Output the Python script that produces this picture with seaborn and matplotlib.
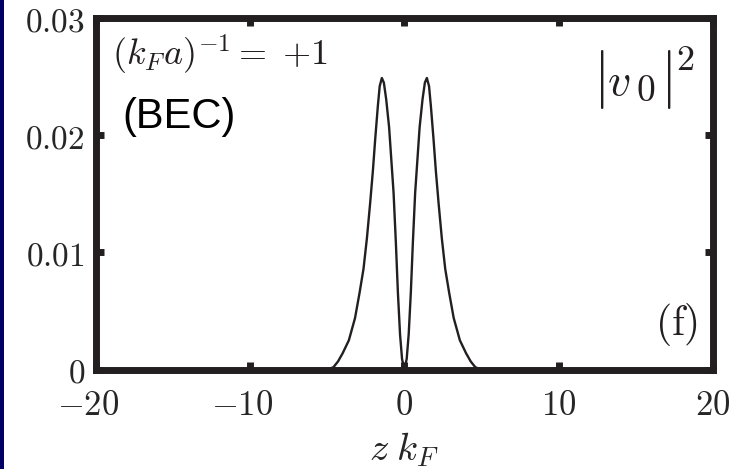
import matplotlib
matplotlib.use("Agg")
import matplotlib.pyplot as plt
import matplotlib.transforms as mtransforms
from matplotlib.patches import Rectangle
import seaborn as sns
import pandas as pd

# |v0|^2 profile along z*kF (BEC side, (kF a)^-1 = +1)
z_kf = [-20.0, -5.0, -4.6, -4.3, -4.0, -3.6, -3.2, -2.9, -2.65, -2.43, -2.22,
        -2.04, -1.89, -1.72, -1.6, -1.46, -1.33, -1.18, -0.99, -0.85, -0.70,
        -0.55, -0.42, -0.28, -0.15, 0.0,
        0.15, 0.28, 0.42, 0.55, 0.70, 0.85, 0.99, 1.18, 1.33, 1.46, 1.6, 1.72,
        1.89, 2.04, 2.22, 2.43, 2.65, 2.9, 3.2, 3.6, 4.0, 4.3, 4.6, 5.0, 20.0]
v0_sq = [0.0, 0.0, 0.0002, 0.0007, 0.0014, 0.0025, 0.0044, 0.0066, 0.0086,
         0.0112, 0.0142, 0.0170, 0.0197, 0.0225, 0.0242, 0.0249, 0.0245,
         0.0231, 0.0207, 0.0180, 0.0151, 0.0108, 0.0066, 0.0030, 0.0009, 0.0,
         0.0009, 0.0030, 0.0066, 0.0108, 0.0151, 0.0180, 0.0207, 0.0231,
         0.0245, 0.0249, 0.0242, 0.0225, 0.0197, 0.0170, 0.0142, 0.0112,
         0.0086, 0.0066, 0.0044, 0.0025, 0.0014, 0.0007, 0.0002, 0.0, 0.0]

x_ticks = [-20, -10, 0, 10, 20]
x_ticklabels = ["$-20$", "$-10$", "$0$", "$10$", "$20$"]
y_ticks = [0, 0.01, 0.02, 0.03]
y_ticklabels = ["$0$", "$0.01$", "$0.02$", "$0.03$"]

sns.set_theme(style="white")
plt.rcParams["font.family"] = ["DejaVu Sans"]
plt.rcParams["mathtext.fontset"] = "cm"

ink = "#231f20"
df = pd.DataFrame({"z": z_kf, "v": v0_sq})

fig = plt.figure(figsize=(7.44, 4.69), dpi=100)
fig.patch.set_facecolor("white")
ax = fig.add_axes([0.129, 0.212, 0.829, 0.749])

sns.lineplot(data=df, x="z", y="v", ax=ax, color=ink, linewidth=1.7)

ax.set_xlim(-20, 20)
ax.set_ylim(0, 0.03)
ax.set_xticks(x_ticks)
ax.set_xticklabels(x_ticklabels, fontsize=25)
ax.set_yticks(y_ticks)
ax.set_yticklabels(y_ticklabels, fontsize=24)
ax.set_xlabel(r"$z\;k_F$", fontsize=28, labelpad=6)
ax.set_ylabel("")

for s in ax.spines.values():
    s.set_linewidth(5.0)
    s.set_color(ink)
    s.set_visible(True)

ax.tick_params(axis="both", direction="in", length=5.5, width=5.0,
               color=ink, top=True, right=True, bottom=True, left=True,
               labeltop=False, labelright=False)
ax.tick_params(axis="x", pad=13)
ax.tick_params(axis="y", pad=8)

# negative labels: keep the digits centred on the tick, minus hanging left
shift = mtransforms.ScaledTranslation(-8 / 100, 0, fig.dpi_scale_trans)
for lab, val in zip(ax.get_xticklabels(), x_ticks):
    if val < 0:
        lab.set_transform(lab.get_transform() + shift)


def px(xp, yp):
    """Axes-fraction position from pixel offsets inside the frame."""
    return (xp - 96) / 617, (369.5 - yp) / 351


ax.text(*px(112, 55), r"$(k_F a)^{-1} =\;{+1}$", transform=ax.transAxes,
        fontsize=26, ha="left", va="center", color=ink)
ax.text(*px(122, 128), "(BEC)", transform=ax.transAxes,
        fontsize=30, ha="left", va="baseline", color="black",
        family=["Liberation Sans", "DejaVu Sans"])

# |v_0|^2 label, built from its pieces so the bars can be tall
ax.text(*px(599, 80), r"$|$", transform=ax.transAxes,
        fontsize=42, ha="center", va="center", color=ink)
ax.text(*px(607, 95), r"$v$", transform=ax.transAxes,
        fontsize=33, ha="left", va="baseline", color=ink)
ax.text(*px(636, 101), r"$0$", transform=ax.transAxes,
        fontsize=27, ha="left", va="baseline", color=ink)
ax.text(*px(666, 80), r"$|$", transform=ax.transAxes,
        fontsize=42, ha="center", va="center", color=ink)
ax.text(*px(676, 70), r"$2$", transform=ax.transAxes,
        fontsize=26, ha="left", va="baseline", color=ink)

ax.text(*px(698, 324), r"$\mathrm{(f)}$", transform=ax.transAxes,
        fontsize=30, ha="right", va="center", color=ink)

fig.patches.append(Rectangle((0, 0), 4 / 744, 1, transform=fig.transFigure,
                             facecolor="#000066", edgecolor="none", zorder=10))

fig.savefig("out.png", dpi=100, facecolor="white")
